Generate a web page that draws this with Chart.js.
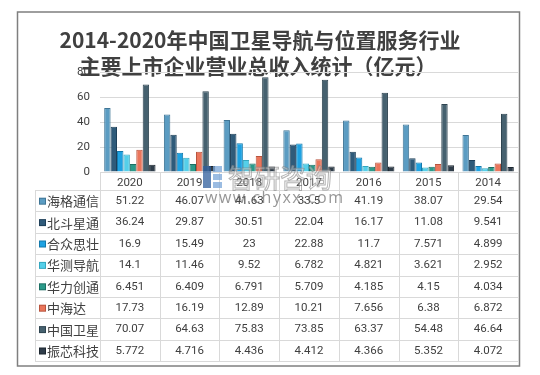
<!DOCTYPE html>
<html>
<head>
<meta charset="utf-8">
<script src="https://cdn.jsdelivr.net/npm/chart.js@4/dist/chart.umd.min.js"></script>
<style>
  html, body { margin: 0; padding: 0; background: #fff; }
  #wrap { width: 540px; height: 375px; position: relative; }
</style>
</head>
<body>
<div id="wrap"><canvas id="chart" width="540" height="375"></canvas></div>
<script>
const years = ["2020", "2019", "2018", "2017", "2016", "2015", "2014"];
const seriesNames = ["海格通信", "北斗星通", "合众思壮", "华测导航", "华力创通", "中海达", "中国卫星", "振芯科技"];
const haige   = [51.22, 46.07, 41.63, 33.5, 41.19, 38.07, 29.54];
const beidou  = [36.24, 29.87, 30.51, 22.04, 16.17, 11.08, 9.541];
const hezhong = [16.9, 15.49, 23, 22.88, 11.7, 7.571, 4.899];
const huace   = [14.1, 11.46, 9.52, 6.782, 4.821, 3.621, 2.952];
const huali   = [6.451, 6.409, 6.791, 5.709, 4.185, 4.15, 4.034];
const zhonghd = [17.73, 16.19, 12.89, 10.21, 7.656, 6.38, 6.872];
const zgws    = [70.07, 64.63, 75.83, 73.85, 63.37, 54.48, 46.64];
const zhenxin = [5.772, 4.716, 4.436, 4.412, 4.366, 5.352, 4.072];
const yTicks = [0, 10, 20, 30, 40, 50, 60, 70, 80];

const seriesValues = [haige, beidou, hezhong, huace, huali, zhonghd, zgws, zhenxin];
const colors = ["#5b9cc2", "#2f5b7a", "#1ea2e2", "#55cfe9", "#2b9a8a", "#ea755b", "#46616f", "#2f3d4a"];
const borders = ["#3f7595", "#1f405a", "#1379ab", "#34a7c0", "#1c6f63", "#b8543e", "#2e4450", "#1c262f"];

const txt = "#404040";
const numFont = "Roboto, 'Noto Sans CJK SC', sans-serif";
const cjkFont = "'Noto Sans CJK SC', sans-serif";

// frame + title
const framePlugin = {
  id: "frame",
  beforeDraw(chart) {
    const c = chart.ctx;
    c.save();
    c.fillStyle = "#fff";
    c.fillRect(0, 0, chart.width, chart.height);
    c.strokeStyle = "#7f7f7f";
    c.lineWidth = 1.5;
    c.strokeRect(17.5, 12, 502, 354);
    c.fillStyle = txt;
    c.textAlign = "center";
    c.textBaseline = "middle";
    c.font = "bold 21px " + cjkFont;
    c.fillText("2014-2020年中国卫星导航与位置服务行业", 260, 40);
    c.fillText("主要上市企业营业总收入统计（亿元）", 258, 66);
    c.restore();
  }
};

// data table under the plot
const tablePlugin = {
  id: "dataTable",
  afterDraw(chart) {
    const c = chart.ctx;
    const x = chart.scales.x;
    const top = chart.chartArea.bottom;
    const headBottom = x.bottom;
    const rowH = 21.4;
    const nRows = seriesNames.length;
    const bottom = headBottom + rowH * nRows;
    const step = x.getPixelForValue(1) - x.getPixelForValue(0);
    const legLeft = 35;
    c.save();
    c.strokeStyle = "#d9d9d9";
    c.lineWidth = 1;
    c.beginPath();
    c.moveTo(x.left, top + 0.5);
    c.lineTo(x.right, top + 0.5);
    for (let r = 0; r <= nRows; r++) {
      const y = Math.round(headBottom + r * rowH) + 0.5;
      c.moveTo(legLeft, y);
      c.lineTo(x.right, y);
    }
    for (let i = 0; i <= years.length; i++) {
      const xx = Math.round(x.getPixelForValue(0) - step / 2 + i * step) + 0.5;
      c.moveTo(xx, top);
      c.lineTo(xx, bottom);
    }
    c.moveTo(legLeft + 0.5, headBottom);
    c.lineTo(legLeft + 0.5, bottom);
    c.stroke();

    c.textBaseline = "middle";
    for (let r = 0; r < nRows; r++) {
      const cy = headBottom + r * rowH + rowH / 2 + 0.5;
      c.fillStyle = borders[r];
      c.fillRect(39, cy - 3.5, 7, 7);
      c.fillStyle = colors[r];
      c.fillRect(40, cy - 2.5, 5, 5);
      c.fillStyle = txt;
      c.textAlign = "left";
      c.font = "13px " + cjkFont;
      c.fillText(seriesNames[r], 47, cy);
      c.textAlign = "center";
      c.font = "11.5px " + numFont;
      seriesValues[r].forEach((v, i) => {
        c.fillText(String(v), x.getPixelForValue(i), cy);
      });
    }
    c.restore();
  }
};

// site watermark
const markPlugin = {
  id: "mark",
  afterDraw(chart) {
    const c = chart.ctx;
    c.save();
    c.globalAlpha = 0.75;
    c.fillStyle = "#2f5d9c";
    c.fillRect(203, 166, 8, 22);
    c.fillStyle = "#7aa6d8";
    c.fillRect(213, 166, 9, 6);
    c.fillRect(213, 174, 9, 6);
    c.fillRect(213, 182, 9, 6);
    c.globalAlpha = 0.6;
    c.font = "26px " + cjkFont;
    c.textBaseline = "middle";
    c.textAlign = "left";
    c.fillStyle = "rgba(255,255,255,0.6)";
    c.strokeStyle = "#808080";
    c.lineWidth = 1;
    c.fillText("智研咨询", 228, 178);
    c.strokeText("智研咨询", 228, 178);
    c.globalAlpha = 0.7;
    c.fillStyle = "#6a6a6a";
    c.font = "16px 'Open Sans', sans-serif";
    if ("letterSpacing" in c) c.letterSpacing = "1.5px";
    c.fillText("www.chyxx.com", 205, 198);
    c.restore();
  }
};

new Chart(document.getElementById("chart"), {
  type: "bar",
  data: {
    labels: years,
    datasets: seriesNames.map((name, i) => ({
      label: name,
      data: seriesValues[i],
      backgroundColor: colors[i],
      borderColor: borders[i],
      borderWidth: 1,
      categoryPercentage: 0.86,
      barPercentage: 1.0
    }))
  },
  options: {
    responsive: false,
    animation: false,
    layout: { padding: { left: 40, right: 22, top: 72, bottom: 185 } },
    plugins: { legend: { display: false }, tooltip: { enabled: false }, title: { display: false } },
    scales: {
      x: {
        grid: { display: false },
        border: { display: false },
        ticks: { color: txt, font: { family: numFont, size: 11.5 }, padding: -4, maxRotation: 0 },
        afterFit(s) { s.height = 18; }
      },
      y: {
        min: 0,
        max: 80,
        afterBuildTicks(s) { s.ticks = yTicks.map(v => ({ value: v })); },
        grid: { color: "#d9d9d9", drawTicks: false },
        border: { display: false },
        ticks: { color: txt, font: { family: numFont, size: 11.5 }, padding: 10 },
        afterFit(s) { s.width = 60; }
      }
    }
  },
  plugins: [framePlugin, tablePlugin, markPlugin]
});
</script>
</body>
</html>
